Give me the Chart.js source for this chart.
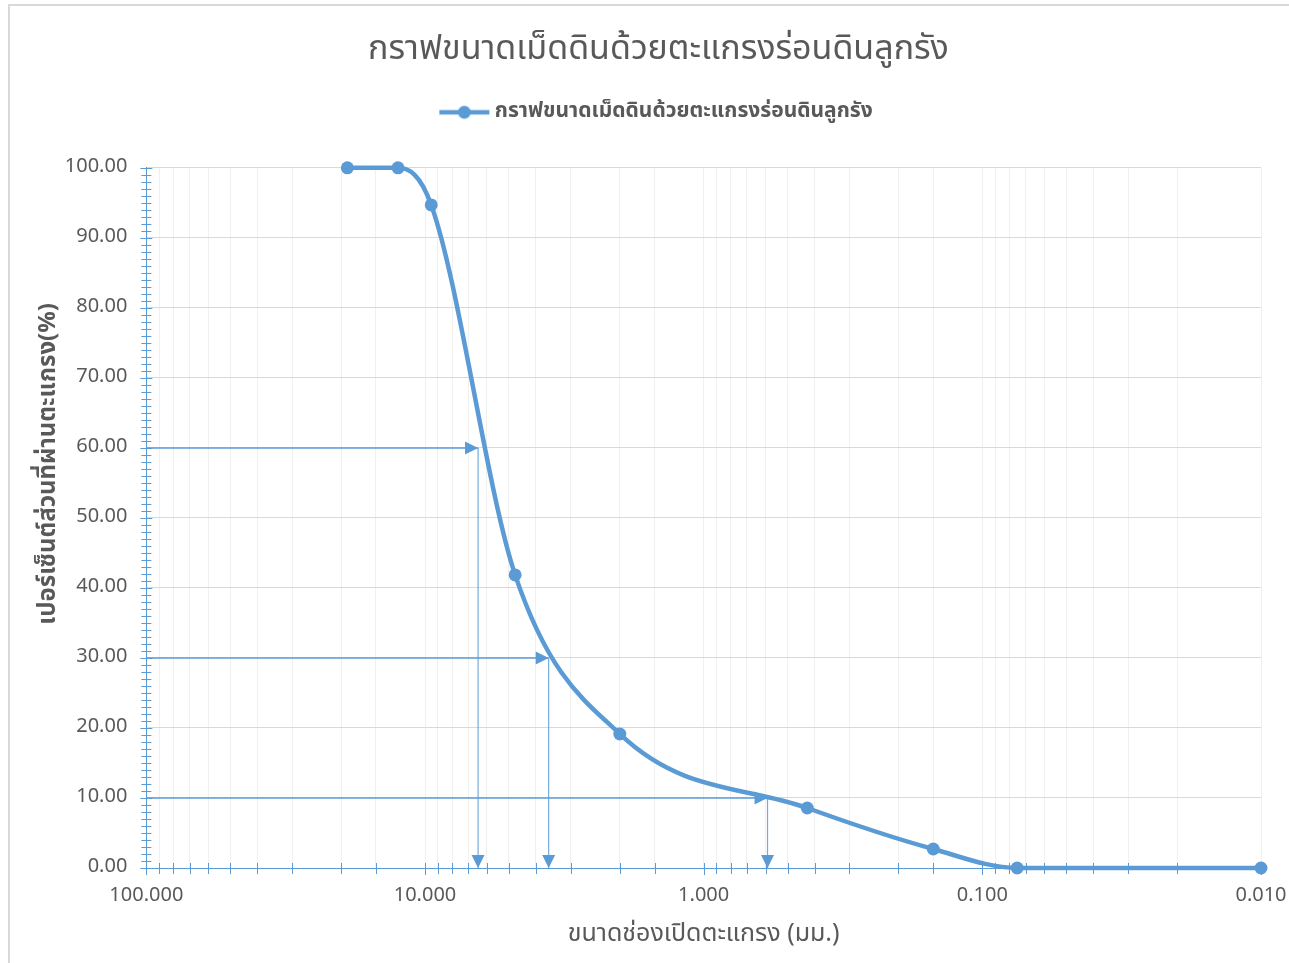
<!DOCTYPE html>
<html>
<head>
<meta charset="utf-8">
<script src="https://cdn.jsdelivr.net/npm/chart.js@4.4.1/dist/chart.umd.min.js"></script>
<style>
  html, body { margin: 0; padding: 0; background: #ffffff; overflow: hidden; }
  #frame {
    position: absolute; left: 8px; top: 4px; width: 1400px; height: 1100px;
    border-left: 2px solid #d9d9d9; border-top: 2px solid #d9d9d9;
  }
  #wrap { position: absolute; left: 0; top: 0; width: 1289px; height: 963px; }
</style>
</head>
<body>
<div id="frame"></div>
<div id="wrap"><canvas id="grading"></canvas></div>
<script>
'use strict';

// ── Data ────────────────────────────────────────────────────────
const SERIES_NAME = 'กราฟขนาดเม็ดดินด้วยตะแกรงร่อนดินลูกรัง';
const Y_TITLE = 'เปอร์เซ็นต์ส่วนที่ผ่านตะแกรง(%)';
const X_TITLE = 'ขนาดช่องเปิดตะแกรง (มม.)';
const sieveSize = [19.0, 12.5, 9.5, 4.75, 2.0, 0.425, 0.15, 0.075, 0.01];   // มม.
const percentPassing = [100.0, 100.0, 94.7, 41.86, 19.14, 8.57, 2.71, 0.0, 0.0];

// D60, D30, D10 read-offs
const readLevels = [60, 30, 10];
const readSizes = [6.45, 3.6, 0.59];

const xTickLabels = ['100.000', '10.000', '1.000', '0.100', '0.010'];

// ── Theme ───────────────────────────────────────────────────────
const COLORS = {
  blue:  '#5b9bd5',
  text:  '#595959',
  grid:  '#d9d9d9',
  minor: '#f0f0f0'
};
const FONT = "'Noto Sans Thai', 'Leelawadee UI', Tahoma, 'Noto Sans', 'DejaVu Sans', sans-serif";

// ── Helpers ─────────────────────────────────────────────────────
function isDecade(v) {
  const l = Math.log10(v);
  return Math.abs(l - Math.round(l)) < 1e-6;
}

function legendSwatch() {
  const c = document.createElement('canvas');
  c.width = 52; c.height = 16;
  const g = c.getContext('2d');
  g.strokeStyle = COLORS.blue;
  g.lineWidth = 4.5;
  g.beginPath(); g.moveTo(1, 8); g.lineTo(51, 8); g.stroke();
  g.fillStyle = COLORS.blue;
  g.beginPath(); g.arc(26, 8, 6.5, 0, Math.PI * 2); g.fill();
  return c;
}

// ── Datasets ────────────────────────────────────────────────────
const datasets = [{
  label: SERIES_NAME,
  data: sieveSize.map((s, i) => ({ x: s, y: percentPassing[i] })),
  borderColor: COLORS.blue,
  backgroundColor: COLORS.blue,
  borderWidth: 4.5,
  pointRadius: 6.5,
  pointHoverRadius: 6.5,
  pointBorderWidth: 0,
  cubicInterpolationMode: 'monotone',
  clip: false,
  order: 0
}];

readLevels.forEach((lvl, i) => {
  datasets.push({
    label: 'h' + lvl,
    data: [{ x: 100, y: lvl }, { x: readSizes[i], y: lvl }],
    borderColor: COLORS.blue,
    borderWidth: 1.5,
    pointRadius: 0,
    tension: 0,
    arrow: true,
    order: 1
  });
  datasets.push({
    label: 'v' + lvl,
    data: [{ x: readSizes[i], y: lvl }, { x: readSizes[i], y: 0 }],
    borderColor: 'rgba(91,155,213,0.85)',
    borderWidth: 1.2,
    pointRadius: 0,
    tension: 0,
    arrow: true,
    order: 1
  });
});

// ── Plugins ─────────────────────────────────────────────────────
// arrow heads at the end of the read-off lines
const arrowHeads = {
  id: 'arrowHeads',
  afterDatasetsDraw(chart) {
    const ctx = chart.ctx;
    chart.data.datasets.forEach((ds, i) => {
      if (!ds.arrow) return;
      const pts = chart.getDatasetMeta(i).data;
      const a = pts[pts.length - 2], b = pts[pts.length - 1];
      const ang = Math.atan2(b.y - a.y, b.x - a.x);
      const len = 13, half = 6.5;
      ctx.save();
      ctx.translate(b.x, b.y);
      ctx.rotate(ang);
      ctx.fillStyle = COLORS.blue;
      ctx.beginPath();
      ctx.moveTo(0, 0);
      ctx.lineTo(-len, -half);
      ctx.lineTo(-len, half);
      ctx.closePath();
      ctx.fill();
      ctx.restore();
    });
  }
};

// tick marks that cross the axis lines (Excel style)
const crossTicks = {
  id: 'crossTicks',
  afterDraw(chart) {
    const ctx = chart.ctx;
    const xs = chart.scales.x, ys = chart.scales.y;
    const area = chart.chartArea;
    ctx.save();
    ctx.strokeStyle = COLORS.blue;
    ctx.lineWidth = 1;
    ctx.beginPath();
    ys.ticks.forEach(t => {
      const y = Math.round(ys.getPixelForValue(t.value)) + 0.5;
      const n = t.value % 10 === 0 ? 6 : 5;
      ctx.moveTo(area.left - n, y); ctx.lineTo(area.left + n, y);
    });
    xs.ticks.forEach(t => {
      const x = Math.round(xs.getPixelForValue(t.value)) + 0.5;
      const n = isDecade(t.value) ? 7 : 6;
      ctx.moveTo(x, area.bottom - 5); ctx.lineTo(x, area.bottom + n);
    });
    ctx.stroke();
    ctx.restore();
  }
};

// y title sits a bit above the plot's middle, as in the Excel original;
// the scale keeps an invisible title to reserve its room
const yTitle = {
  id: 'yTitle',
  afterDraw(chart) {
    const ctx = chart.ctx;
    const ys = chart.scales.y;
    const area = chart.chartArea;
    ctx.save();
    ctx.translate(ys.left + 22, (area.top + area.bottom) / 2 - 54);
    ctx.rotate(-Math.PI / 2);
    ctx.fillStyle = COLORS.text;
    ctx.font = "bold 24px " + FONT;
    ctx.textAlign = 'center';
    ctx.textBaseline = 'middle';
    ctx.fillText(Y_TITLE, 0, 0);
    ctx.restore();
  }
};

// ── Chart ───────────────────────────────────────────────────────
new Chart(document.getElementById('grading'), {
  type: 'line',
  data: { datasets },
  plugins: [arrowHeads, crossTicks, yTitle],
  options: {
    responsive: true,
    maintainAspectRatio: false,
    animation: false,
    layout: { padding: { left: 28, right: 0, top: 8, bottom: 12 } },
    plugins: {
      title: {
        display: true,
        text: SERIES_NAME,
        color: COLORS.text,
        font: { family: FONT, size: 34, weight: 'normal' },
        padding: { top: 24, bottom: 19 }
      },
      // empty spacer between legend and plot area
      subtitle: {
        display: true,
        text: '',
        weight: 500,
        font: { size: 10, lineHeight: 1 },
        padding: { top: 0, bottom: 25 }
      },
      legend: {
        display: true,
        position: 'top',
        labels: {
          color: COLORS.text,
          font: { family: FONT, size: 21, weight: 'bold' },
          usePointStyle: true,
          pointStyleWidth: 40,
          padding: 10,
          generateLabels: chart => [{
            text: SERIES_NAME,
            fillStyle: COLORS.blue,
            strokeStyle: COLORS.blue,
            pointStyle: legendSwatch(),
            fontColor: COLORS.text,
            lineWidth: 0,
            hidden: false,
            datasetIndex: 0
          }]
        }
      },
      tooltip: { enabled: false }
    },
    scales: {
      x: {
        type: 'logarithmic',
        reverse: true,
        min: 0.01,
        max: 100,
        border: { color: COLORS.blue, width: 1 },
        grid: {
          drawTicks: false,
          color: ctx => (ctx.tick && ctx.tick.value === 100) ? 'transparent' : COLORS.minor,
          lineWidth: 1
        },
        ticks: {
          autoSkip: false,
          maxRotation: 0,
          padding: 17,
          color: COLORS.text,
          font: { family: FONT, size: 20 },
          callback: v => isDecade(v) ? xTickLabels[Math.round(2 - Math.log10(v))] : ''
        },
        title: {
          display: true,
          text: X_TITLE,
          color: COLORS.text,
          font: { family: FONT, size: 25 },
          padding: { top: -5, bottom: 0 }
        },
        afterFit: s => { s.paddingRight = 28; }
      },
      y: {
        min: 0,
        max: 100,
        border: { color: COLORS.blue, width: 1 },
        grid: {
          drawTicks: false,
          color: ctx => (ctx.tick && ctx.tick.value % 10 === 0 && ctx.tick.value !== 0) ? COLORS.grid : 'transparent',
          lineWidth: 1
        },
        ticks: {
          stepSize: 1,
          autoSkip: false,
          padding: 19,
          color: COLORS.text,
          font: { family: FONT, size: 20 },
          callback: v => v % 10 === 0 ? v.toFixed(2) : ''
        },
        title: {
          display: true,
          text: Y_TITLE,
          color: 'transparent',
          font: { family: FONT, size: 24, weight: 'bold' },
          padding: { top: 8, bottom: -19 }
        }
      }
    }
  }
});
</script>
</body>
</html>
